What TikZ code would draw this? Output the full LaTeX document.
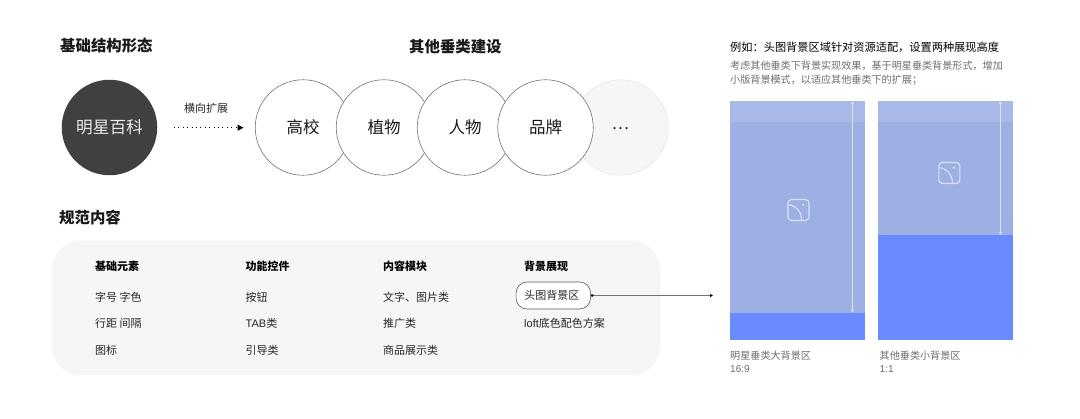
\documentclass[tikz,border=0pt]{standalone}
\usepackage{fontspec}
\setmainfont{Noto Sans CJK SC}
\newfontfamily\latinf{Liberation Sans}
\usetikzlibrary{arrows.meta,positioning}
\definecolor{panelgrey}{HTML}{F6F6F6}
\definecolor{darkdisc}{HTML}{404040}
\definecolor{bandlight}{HTML}{A9B9E8}
\definecolor{bandmid}{HTML}{9DB0E4}
\definecolor{bandblue}{HTML}{6A8BFF}
\definecolor{iconline}{HTML}{DCE3F6}
\definecolor{greytext}{HTML}{6E6E6E}
\tikzset{
  disc/.style={circle,draw=black!55,line width=0.6pt,fill=white,minimum size=95.5pt,inner sep=0pt,font=\fontsize{16.5}{18}\selectfont,text=black!90},
  lbl/.style={anchor=west,inner sep=0pt,font=\fontsize{11}{13}\selectfont,text=black!85},
  hdr/.style={anchor=west,inner sep=0pt,font=\fontsize{11}{13}\selectfont\bfseries,text=black},
  ttl/.style={anchor=west,inner sep=0pt,font=\fontsize{15.4}{18}\selectfont\bfseries,text=black!90},
  note/.style={anchor=west,inner sep=0pt,font=\fontsize{10.1}{12}\selectfont,text=greytext},
  measure/.style={draw=iconline,line width=0.7pt,{Triangle[length=2.5pt,width=3pt]}-{Triangle[length=2.5pt,width=3pt]}},
  bgicon/.pic={
    \draw[iconline,line width=1.1pt,rounded corners=3.5pt] (-10.5,-10.5) rectangle (10.5,10.5);
    \draw[iconline,line width=1.1pt] (-10.5,-5.3) .. controls (-3,-5) and (3,1) .. (3.2,10.5);
    \fill[iconline] (4.7,-5.3) circle (1.2);
  }
}
\begin{document}
\begin{tikzpicture}[x=1pt,y=-1pt]
\useasboundingbox (0,0) rectangle (1080,419);
\fill[white] (0,0) rectangle (1080,419);

% titles
\node[ttl] (t1) at (60,45.5) {基础结构形态};
\node[ttl] (t2) at (409,46.5) {其他垂类建设};
\node[ttl] (t3) at (59,217.5) {规范内容};

% top row
\node[circle,fill=darkdisc,minimum size=95.5pt,inner sep=0pt,text=white!92!black,font=\fontsize{16.7}{18}\selectfont] (main) at (109.5,127.5) {明星百科};
\node[lbl] (ext) at (184,108) {横向扩展};
\coordinate (extA) at (174,127.7);
\coordinate (extB) at (243.5,127.7);
\draw[black,line width=1pt,dash pattern=on 1pt off 3.4pt,-{Triangle[length=6pt,width=6pt]}] (extA) -- (extB);

\node[disc,draw=none,fill=panelgrey] (more) at (620.5,127.5) {\raisebox{-5.6pt}[0pt][0pt]{\latinf\fontsize{18}{18}\selectfont ···}};
\draw[black!10,line width=0.5pt] (more) circle (47.7);
\node[disc] (c1) at (303,127.5) {高校};
\node[disc] (c2) at (384,127.5) {植物};
\node[disc] (c3) at (465,127.5) {人物};
\node[disc] (c4) at (545.5,127.5) {品牌};

% panel
\fill[panelgrey,rounded corners=28pt] (52,241) rectangle (660,375);
\node[hdr] (h1) at (95,266) {基础元素};
\node[hdr] (h2) at (245.5,266) {功能控件};
\node[hdr] (h3) at (383,266) {内容模块};
\node[hdr] (h4) at (524,266) {背景展现};
\node[lbl] (a1) at (95,297) {字号 字色};
\node[lbl] (a2) at (95,323.5) {行距 间隔};
\node[lbl] (a3) at (95,350) {图标};
\node[lbl] (b1) at (245.5,297) {按钮};
\node[lbl] (b2) at (245.5,323) {{\latinf TAB}类};
\node[lbl] (b3) at (245.5,350) {引导类};
\node[lbl] (d1) at (383,297) {文字、图片类};
\node[lbl] (d2) at (383,323.5) {推广类};
\node[lbl] (d3) at (383,350) {商品展示类};
\node[draw=black!65,fill=white,line width=0.6pt,rounded corners=11pt,minimum width=74.5pt,minimum height=27pt,inner sep=0pt,font=\fontsize{11}{13}\selectfont,text=black!85] (e1) at (553.3,295.5) {\hspace*{-3pt}头图背景区};
\node[lbl] (e2) at (524,323.5) {{\latinf loft}底色配色方案};
\coordinate (target) at (713,295.5);
\draw[black!55,line width=1pt,{Circle[length=2.6pt,black]}-{Triangle[length=3pt,width=3pt,black]}] (e1.east) -- (target);

% right column
\node[lbl,text=black,font=\fontsize{11.2}{13}\selectfont] (r1) at (730,47.5) {例如：头图背景区域针对资源适配，设置两种展现高度};
\node[note] (r2) at (730,66) {考虑其他垂类下背景实现效果，基于明星垂类背景形式，增加};
\node[note] (r3) at (730,80) {小版背景模式，以适应其他垂类下的扩展；};

% card 1
\fill[bandmid] (730,101) rectangle (865,313);
\fill[bandlight] (730,101) rectangle (865,122);
\fill[bandblue] (730,313) rectangle (865,340);
\coordinate (m1a) at (852.4,101.5);
\coordinate (m1b) at (852.4,312.5);
\draw[measure] (m1a) -- (m1b);
\pic at (798.5,210) {bgicon};

% card 2
\fill[bandmid] (878,101) rectangle (1013,235.5);
\fill[bandlight] (878,101) rectangle (1013,122);
\fill[bandblue] (878,235.5) rectangle (1013,340);
\coordinate (m2a) at (1000.4,101.5);
\coordinate (m2b) at (1000.4,235);
\draw[measure] (m2a) -- (m2b);
\pic at (949.3,173) {bgicon};

% captions
\node[note] (l1) at (730,356) {明星垂类大背景区};
\node[note] (l2) at (730,369.5) {\latinf 16:9};
\node[note] (l3) at (879.5,356) {其他垂类小背景区};
\node[note] (l4) at (879.5,369.5) {\latinf 1:1};
\end{tikzpicture}
\end{document}
